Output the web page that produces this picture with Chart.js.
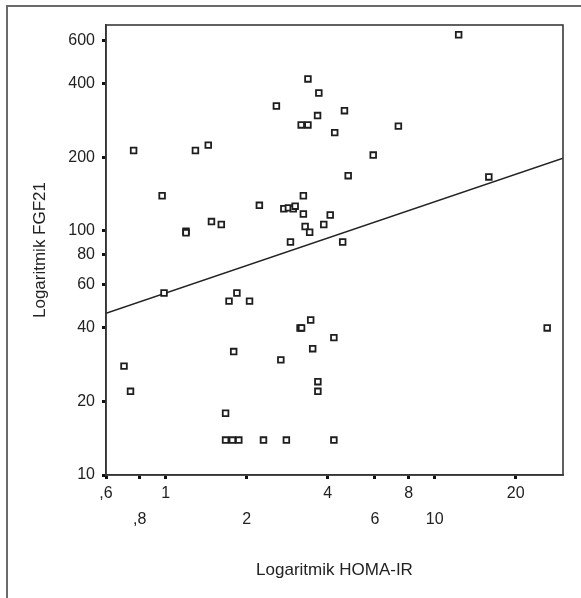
<!DOCTYPE html>
<html>
<head>
<meta charset="utf-8">
<script src="https://cdn.jsdelivr.net/npm/chart.js@4.4.1/dist/chart.umd.min.js"></script>
<style>
  html, body { margin: 0; padding: 0; background: #ffffff; }
  #wrap { position: relative; width: 581px; height: 598px; }
</style>
</head>
<body>
<div id="wrap"><canvas id="c" width="581" height="598"></canvas></div>
<script>
// ---- Data ----
const homaIR = [3.38, 3.71, 2.58, 3.67, 3.19, 3.38, 4.25, 0.76, 1.29, 1.44,
                0.97, 3.25, 2.23, 2.75, 2.86, 2.98, 3.03, 3.25, 4.09, 1.48,
                1.61, 1.19, 1.19, 3.30, 3.87, 3.43, 2.91, 4.55, 12.28, 4.62,
                7.33, 5.91, 4.77, 15.9, 0.986, 1.72, 1.84, 2.05, 3.46, 3.16,
                3.20, 3.52, 4.22, 1.79, 2.68, 0.70, 0.74, 3.68, 3.68, 1.67,
                1.67, 1.77, 1.87, 2.31, 2.81, 4.22, 26.2];
const fgf21  = [418, 366, 324, 296, 271, 271, 252, 213, 213, 224,
                139, 139, 127, 123, 124, 123, 126, 117, 116, 109,
                106, 99.4, 98.1, 104, 106, 98.5, 89.9, 89.9, 634, 310,
                268, 204, 168, 166, 55.6, 51.5, 55.6, 51.5, 43.1, 40.0,
                40.0, 32.9, 36.5, 32.0, 29.6, 27.9, 22.0, 24.1, 22.0, 17.9,
                13.9, 13.9, 13.9, 13.9, 13.9, 13.9, 40.0];
const fitX = [0.6, 30];
const fitY = [45.9, 198];

const xTickValues = [0.6, 0.8, 1, 2, 4, 6, 8, 10, 20];
const xTickLabels = [',6', ',8', '1', '2', '4', '6', '8', '10', '20'];
const xTickRows   = [0, 1, 0, 1, 0, 1, 0, 1, 0];
const yTickValues = [10, 20, 40, 60, 80, 100, 200, 400, 600];
const yTickLabels = ['10', '20', '40', '60', '80', '100', '200', '400', '600'];

const xTitle = 'Logaritmik HOMA-IR';
const yTitle = 'Logaritmik FGF21';

// ---- Build datasets ----
const points = homaIR.map((x, i) => ({ x: x, y: fgf21[i] }));
const fitPoints = fitX.map((x, i) => ({ x: x, y: fitY[i] }));

const FONT = "'Liberation Sans', Arial, Helvetica, sans-serif";

const framePlugin = {
  id: 'frames',
  beforeDraw(chart) {
    const ctx = chart.ctx;
    ctx.save();
    ctx.fillStyle = '#ffffff';
    ctx.fillRect(0, 0, chart.width, chart.height);
    // outer frame (runs off the right and bottom edge)
    ctx.strokeStyle = '#6a6a6a';
    ctx.lineWidth = 2;
    ctx.strokeRect(7, 6, chart.width + 20, chart.height + 20);
    ctx.restore();
  },
  afterDatasetsDraw(chart) {
    const a = chart.chartArea;
    const ctx = chart.ctx;
    ctx.save();
    ctx.strokeStyle = '#3a3a3a';
    ctx.lineWidth = 1.6;
    ctx.strokeRect(a.left, a.top, a.right - a.left, a.bottom - a.top);
    ctx.restore();
  }
};

new Chart(document.getElementById('c'), {
  type: 'scatter',
  data: {
    datasets: [
      {
        label: 'FGF21',
        data: points,
        pointStyle: 'rect',
        pointRadius: 4,
        pointHoverRadius: 4,
        pointBackgroundColor: '#ffffff',
        pointBorderColor: '#1e1e1e',
        pointBorderWidth: 1.8,
        showLine: false
      },
      {
        label: 'fit',
        type: 'line',
        data: fitPoints,
        borderColor: '#222222',
        borderWidth: 1.5,
        pointRadius: 0,
        fill: false,
        tension: 0
      }
    ]
  },
  plugins: [framePlugin],
  options: {
    responsive: false,
    animation: false,
    devicePixelRatio: 1,
    layout: { padding: { top: 25, right: 18, left: 0, bottom: 0 } },
    plugins: {
      legend: { display: false },
      tooltip: { enabled: false },
      title: { display: false }
    },
    scales: {
      x: {
        type: 'logarithmic',
        position: 'bottom',
        min: 0.6,
        max: 30,
        afterBuildTicks(scale) {
          scale.ticks = xTickValues.map(v => ({ value: v }));
        },
        afterFit(scale) { scale.height = 123; },
        ticks: {
          autoSkip: false,
          maxRotation: 0,
          minRotation: 0,
          padding: 2,
          color: '#222222',
          font: { family: FONT, size: 16, lineHeight: '26px' },
          callback(value, index) {
            const i = xTickValues.indexOf(value);
            if (i < 0) return '';
            return xTickRows[i] === 0 ? [xTickLabels[i], ''] : ['', xTickLabels[i]];
          }
        },
        grid: {
          display: true,
          drawOnChartArea: false,
          drawTicks: true,
          tickLength: 4,
          tickWidth: 3,
          tickColor: '#111111'
        },
        border: { display: true, color: '#222222', width: 1.6 },
        title: {
          display: true,
          text: xTitle,
          color: '#222222',
          font: { family: FONT, size: 17 },
          padding: { top: 0, bottom: 17 }
        }
      },
      y: {
        type: 'logarithmic',
        position: 'left',
        min: 10,
        max: 695,
        afterBuildTicks(scale) {
          scale.ticks = yTickValues.map(v => ({ value: v }));
        },
        afterFit(scale) { scale.width = 106; },
        ticks: {
          autoSkip: false,
          padding: 7,
          color: '#222222',
          font: { family: FONT, size: 16 },
          callback(value) {
            const i = yTickValues.indexOf(value);
            return i < 0 ? '' : yTickLabels[i];
          }
        },
        grid: {
          display: true,
          drawOnChartArea: false,
          drawTicks: true,
          tickLength: 4,
          tickWidth: 3,
          tickColor: '#111111'
        },
        border: { display: true, color: '#222222', width: 1.6 },
        title: {
          display: true,
          text: yTitle,
          color: '#222222',
          font: { family: FONT, size: 17 },
          padding: { top: 30, bottom: 0 }
        }
      }
    }
  }
});
</script>
</body>
</html>
